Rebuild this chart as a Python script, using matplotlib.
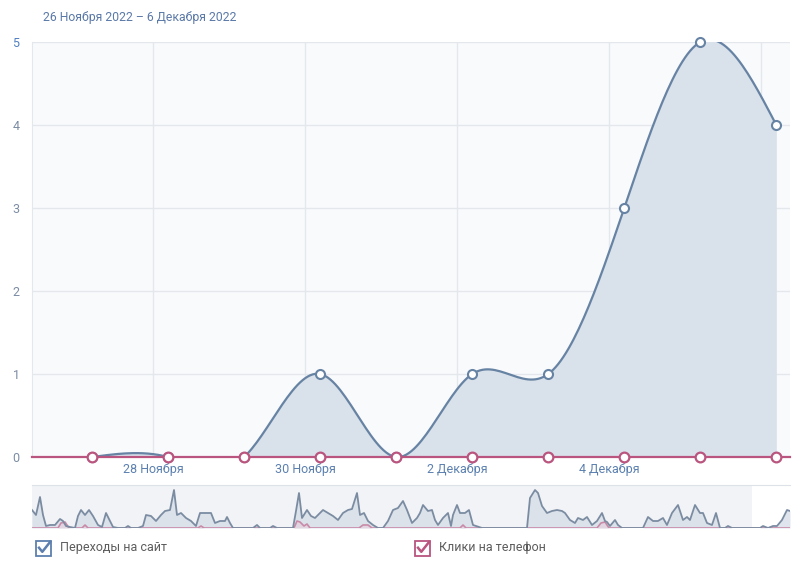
import matplotlib
matplotlib.use("Agg")
import matplotlib.pyplot as plt
import numpy as np
from matplotlib.patches import Rectangle
from matplotlib.lines import Line2D

plt.rcParams['font.family'] = ['Roboto', 'DejaVu Sans']

# ---- data ----
title = "26 Ноября 2022 – 6 Декабря 2022"
days = [0, 1, 2, 3, 4, 5, 6, 7, 8, 9]            # 27 Nov .. 6 Dec
visits = [0, 0, 0, 1, 0, 1, 1, 3, 5, 4]           # Переходы на сайт
calls = [0, 0, 0, 0, 0, 0, 0, 0, 0, 0]            # Клики на телефон
tick_pos = [0.8, 2.8, 4.8, 6.8, 8.8]
tick_labels = ["28 Ноября", "30 Ноября", "2 Декабря", "4 Декабря", ""]
y_ticks = [0, 1, 2, 3, 4, 5]
legend_labels = ["Переходы на сайт", "Клики на телефон"]

# navigator (overview) series, (time, value)
nav_points = [
    (0, 18), (4, 13), (8, 31), (11, 13), (14, 2), (18, 3), (23, 3), (28, 9), (31, 7), (34, 2),
    (38, 1), (43, 0), (46, 12), (49, 18), (53, 13), (57, 18), (61, 12), (66, 3), (70, 1), (74, 15),
    (78, 7), (81, 1), (86, 0), (93, 0), (96, 2), (99, 0), (106, 0), (111, 2), (114, 13), (119, 12),
    (124, 7), (129, 13), (133, 17), (138, 18), (142, 38), (145, 13), (149, 15), (154, 10), (159, 7), (164, 2),
    (168, 15), (174, 15), (179, 15), (183, 5), (188, 7), (193, 7), (195, 11), (198, 5), (201, 0), (221, 0),
    (225, 3), (228, 0), (238, 0), (241, 2), (245, 0), (261, 0), (264, 17), (267, 35), (270, 10), (275, 18),
    (279, 12), (283, 10), (286, 13), (291, 18), (296, 15), (301, 12), (306, 8), (311, 15), (316, 18), (320, 19),
    (325, 35), (328, 13), (332, 15), (336, 7), (341, 3), (346, 0), (351, 0), (356, 7), (361, 18), (366, 20),
    (371, 27), (375, 18), (380, 5), (385, 10), (388, 15), (391, 23), (396, 17), (400, 18), (403, 8), (406, 3),
    (411, 10), (416, 15), (419, 2), (421, 13), (425, 23), (428, 15), (433, 15), (437, 18), (441, 3), (444, 2),
    (450, 0), (495, 0), (498, 30), (503, 38), (506, 35), (510, 22), (515, 15), (520, 17), (525, 18), (530, 17),
    (533, 15), (538, 8), (543, 5), (546, 10), (551, 8), (555, 11), (560, 3), (565, 7), (570, 15), (573, 7),
    (575, 6), (578, 2), (583, 8), (586, 3), (590, 0), (611, 0), (616, 11), (621, 7), (626, 7), (631, 10),
    (635, 3), (640, 15), (646, 23), (651, 8), (655, 11), (658, 8), (663, 23), (668, 15), (671, 15), (675, 5),
    (680, 3), (684, 15), (688, 0), (693, 0), (696, 2), (700, 0), (728, 0), (731, 2), (736, 0), (741, 2),
    (745, 2), (750, 8), (755, 18), (758, 17),
]
nav_pink = [
    (0, 0), (26, 0), (29, 5), (33, 6), (37, 0), (50, 0), (53, 3), (56, 0), (166, 0), (169, 2),
    (172, 0), (262, 0), (265, 7), (268, 6), (272, 2), (275, 4), (278, 0), (327, 0), (331, 3), (336, 3),
    (340, 0), (428, 0), (431, 3), (434, 0), (565, 0), (569, 5), (573, 6), (577, 0), (758, 0),
]
nav_selected_end = 720

BLUE = '#6783a4'
FILL = '#d9e1ea'
PINK = '#b9557f'


def natural_spline(x, y, per_seg=30):
    x = np.asarray(x, float)
    y = np.asarray(y, float)
    n = len(x)
    h = np.diff(x)
    A = np.zeros((n, n))
    r = np.zeros(n)
    A[0, 0] = A[-1, -1] = 1
    for i in range(1, n - 1):
        A[i, i - 1] = h[i - 1]
        A[i, i] = 2 * (h[i - 1] + h[i])
        A[i, i + 1] = h[i]
        r[i] = 6 * ((y[i + 1] - y[i]) / h[i] - (y[i] - y[i - 1]) / h[i - 1])
    M = np.linalg.solve(A, r)
    xs, ys = [], []
    for i in range(n - 1):
        t = np.linspace(0, 1, per_seg, endpoint=(i == n - 2))
        a = 1 - t
        hi = h[i]
        s = a * y[i] + t * y[i + 1] + ((a ** 3 - a) * M[i] + (t ** 3 - t) * M[i + 1]) * hi ** 2 / 6
        xs.append(x[i] + t * hi)
        ys.append(s)
    return np.concatenate(xs), np.concatenate(ys)


fig = plt.figure(figsize=(8, 5.7), dpi=100)

# ---- main chart ----
ax = fig.add_axes([0.04, 0.1982, 0.9475, 0.7281])
ax.set_facecolor('#f9fafc')
ax.set_xlim(-0.79, 9.18)
ax.set_ylim(0, 5)

sx, sy = natural_spline(days, visits)
ax.fill_between(sx, sy, 0, color=FILL, lw=0, zorder=2)
ax.plot(sx, sy, color=BLUE, lw=1.6, zorder=3)
ax.plot(days, visits, 'o', ms=6.5, mfc='white', mec=BLUE, mew=1.5, zorder=5, clip_on=False)

ax.plot([-0.79, 9.18], [0, 0], color=PINK, lw=1.6, zorder=4, clip_on=False)
ax.plot(days, calls, 'o', ms=7, mfc='white', mec=PINK, mew=1.6, zorder=6, clip_on=False)

ax.set_yticks(y_ticks)
ax.set_yticklabels([str(v) for v in y_ticks])
ax.set_xticks(tick_pos)
ax.set_xticklabels(tick_labels)
ax.tick_params(axis='y', length=0, pad=9, labelsize=9, labelcolor='#7b8ca3')
ax.tick_params(axis='x', length=0, pad=4, labelsize=9, labelcolor='#5b80b0')
ax.get_yticklabels()[-1].set_color('#4f7fc0')
ax.grid(True, color='#e4e8ed', lw=1, zorder=0)
ax.set_axisbelow(True)
for side in ['top', 'right', 'bottom']:
    ax.spines[side].set_visible(False)
ax.spines['left'].set_color('#e4e8ed')

fig.text(43 / 800, 1 - 18 / 570, title, fontsize=8.8, color='#5b79a8', va='center', ha='left')

# ---- navigator ----
nav = fig.add_axes([0.04, 0.0737, 0.9475, 0.0754])
nav.set_xlim(0, 758)
nav.set_ylim(0, 43)
nav.set_facecolor('white')
nav.axvspan(0, nav_selected_end, color='#f1f3f6', lw=0, zorder=0)
nt = [p[0] for p in nav_points]
nv = [p[1] for p in nav_points]
nav.fill_between(nt, nv, 0, color='#d3dbe6', alpha=0.7, lw=0, zorder=1)
nav.plot(nt, nv, color='#7b8ca2', lw=1.3, zorder=3)
pt = [p[0] for p in nav_pink]
pv = [p[1] for p in nav_pink]
nav.fill_between(pt, pv, 0, color='#e6cddb', alpha=0.6, lw=0, zorder=2)
nav.plot(pt, pv, color='#c98aa8', lw=1.2, zorder=2)
nav.set_xticks([])
nav.set_yticks([])
for side in ['right', 'bottom', 'left']:
    nav.spines[side].set_visible(False)
nav.spines['top'].set_color('#dde2e8')

# ---- legend (checkboxes) ----
def checkbox(x_px, color, label):
    w = 15 / 800
    hgt = 15 / 570
    x0 = x_px / 800
    y0 = 1 - 556 / 570
    fig.patches.append(Rectangle((x0, y0), w, hgt, transform=fig.transFigure,
                                 fill=False, ec=color, lw=1.3))
    fig.lines.append(Line2D([x0 + w * 0.2, x0 + w * 0.42, x0 + w * 0.95],
                            [y0 + hgt * 0.55, y0 + hgt * 0.28, y0 + hgt * 0.95],
                            transform=fig.transFigure, color=color, lw=1.8))
    fig.text(x0 + 24 / 800, 1 - 548 / 570, label, fontsize=9, color='#5c5c5c',
             va='center', ha='left')


checkbox(36, '#5d7fae', legend_labels[0])
checkbox(415, PINK, legend_labels[1])

fig.savefig('out.png', dpi=100)
